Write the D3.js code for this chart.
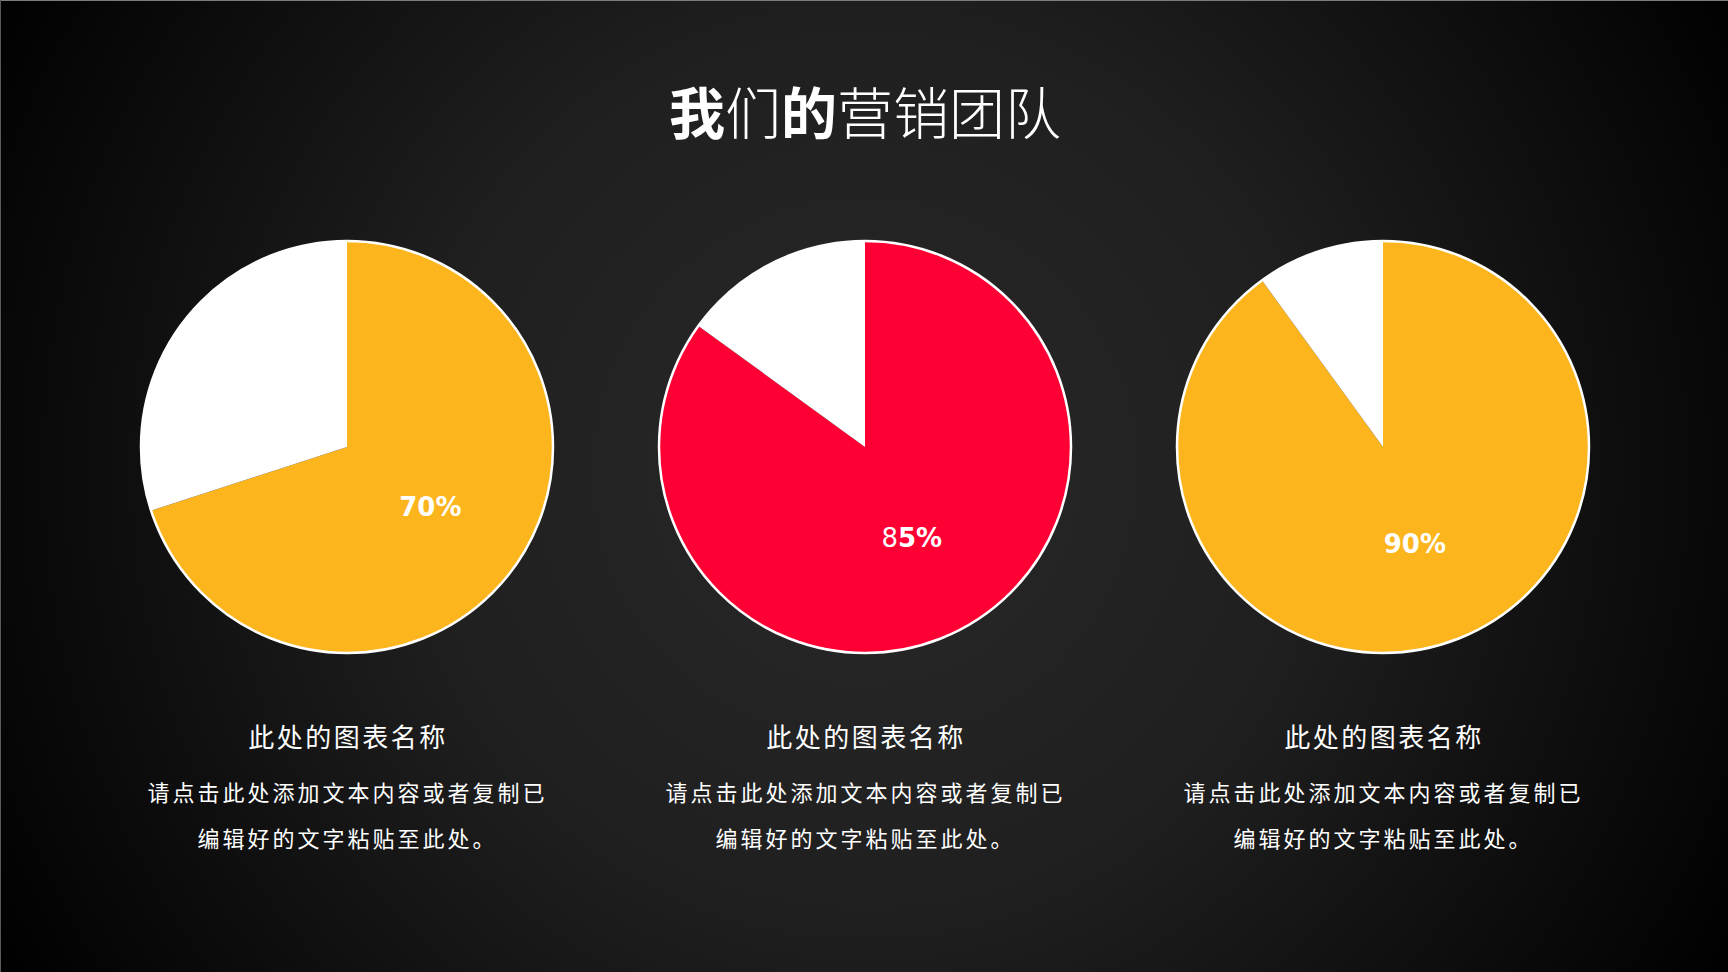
<!DOCTYPE html>
<html>
<head>
<meta charset="utf-8">
<script src="https://cdn.jsdelivr.net/npm/d3@7"></script>
<style>
  html, body { margin: 0; padding: 0; background: #000; overflow: hidden; }
  svg { display: block; }
</style>
</head>
<body>
<svg id="chart" width="1728" height="972"></svg>
<script>
// ---- data ----
const titleParts = [
  { text: "我", weight: 700 },
  { text: "们", weight: 300 },
  { text: "的", weight: 700 },
  { text: "营销团队", weight: 300 }
];
const chartNames = ["此处的图表名称", "此处的图表名称", "此处的图表名称"];
const values = [70, 85, 90];
const labels = ["70%", "85%", "90%"];
const sliceColors = ["#FDB51E", "#FE0033", "#FDB51E"];
const descLine1 = "请点击此处添加文本内容或者复制已";
const descLine2 = "编辑好的文字粘贴至此处。";

const W = 1728, H = 972;
const svg = d3.select("#chart");
const defs = svg.append("defs");

// background radial gradient
const grad = defs.append("radialGradient")
  .attr("id", "bg").attr("gradientUnits", "userSpaceOnUse")
  .attr("cx", 865).attr("cy", 470).attr("r", 1000);
grad.append("stop").attr("offset", "0%").attr("stop-color", "#292929");
grad.append("stop").attr("offset", "45%").attr("stop-color", "#1f1f1f");
grad.append("stop").attr("offset", "100%").attr("stop-color", "#000000");
svg.append("rect").attr("width", W).attr("height", H).attr("fill", "url(#bg)");
svg.append("line").attr("x1", 0).attr("x2", W).attr("y1", 0.5).attr("y2", 0.5)
  .attr("stroke", "#7c7c7c").attr("stroke-width", 1);
svg.append("line").attr("x1", 0.5).attr("x2", 0.5).attr("y1", 0).attr("y2", H)
  .attr("stroke", "#5a5a5a").attr("stroke-width", 1);

const cjk = "'Noto Sans CJK SC', 'Noto Sans', sans-serif";

// title
const title = svg.append("text")
  .attr("x", 865).attr("y", 109)
  .attr("text-anchor", "middle").attr("dominant-baseline", "central")
  .attr("fill", "#ffffff").style("font-family", cjk).style("font-size", "56px");
title.selectAll("tspan").data(titleParts).join("tspan")
  .text(d => d.text).style("font-weight", d => d.weight);

// pies
const xScale = d3.scalePoint().domain(d3.range(values.length)).range([347, 1383]);
const cy = 447, R = 206;
const pie = d3.pie().sort(null).value(d => d);
const arc = d3.arc().innerRadius(0).outerRadius(R);

values.forEach((v, i) => {
  const g = svg.append("g").attr("transform", `translate(${xScale(i)},${cy})`);
  const arcs = pie([v, 100 - v]);
  g.selectAll("path").data(arcs).join("path")
    .attr("d", arc)
    .attr("fill", (d, j) => j === 0 ? sliceColors[i] : "#ffffff");
  g.append("circle").attr("r", R).attr("fill", "none")
    .attr("stroke", "#ffffff").attr("stroke-width", 2.5);
  const c = arc.centroid(arcs[0]);
  const t = g.append("text")
    .attr("x", c[0]).attr("y", c[1] - 1)
    .attr("text-anchor", "middle").attr("dominant-baseline", "central")
    .attr("fill", "#ffffff")
    .style("font-family", "'DejaVu Sans', Lato, sans-serif")
    .style("font-size", "26px").style("font-weight", 700);
  if (i === 1) {
    t.append("tspan").text(labels[i].slice(0, 1)).style("font-weight", 400);
    t.append("tspan").text(labels[i].slice(1));
  } else {
    t.text(labels[i]);
  }

  // captions
  const cx = xScale(i);
  svg.append("text").attr("x", cx + 1).attr("y", 735)
    .attr("text-anchor", "middle").attr("dominant-baseline", "central")
    .attr("fill", "#ffffff").style("font-family", cjk)
    .style("font-size", "26px").style("letter-spacing", "2.5px")
    .text(chartNames[i]);
  svg.append("text").attr("x", cx + 0.5).attr("y", 791)
    .attr("text-anchor", "middle").attr("dominant-baseline", "central")
    .attr("fill", "#ffffff").style("font-family", cjk)
    .style("font-size", "22px").style("letter-spacing", "3px")
    .text(descLine1);
  svg.append("text").attr("x", cx + 0.5).attr("y", 837)
    .attr("text-anchor", "middle").attr("dominant-baseline", "central")
    .attr("fill", "#ffffff").style("font-family", cjk)
    .style("font-size", "22px").style("letter-spacing", "3px")
    .text(descLine2);
});
</script>
</body>
</html>
